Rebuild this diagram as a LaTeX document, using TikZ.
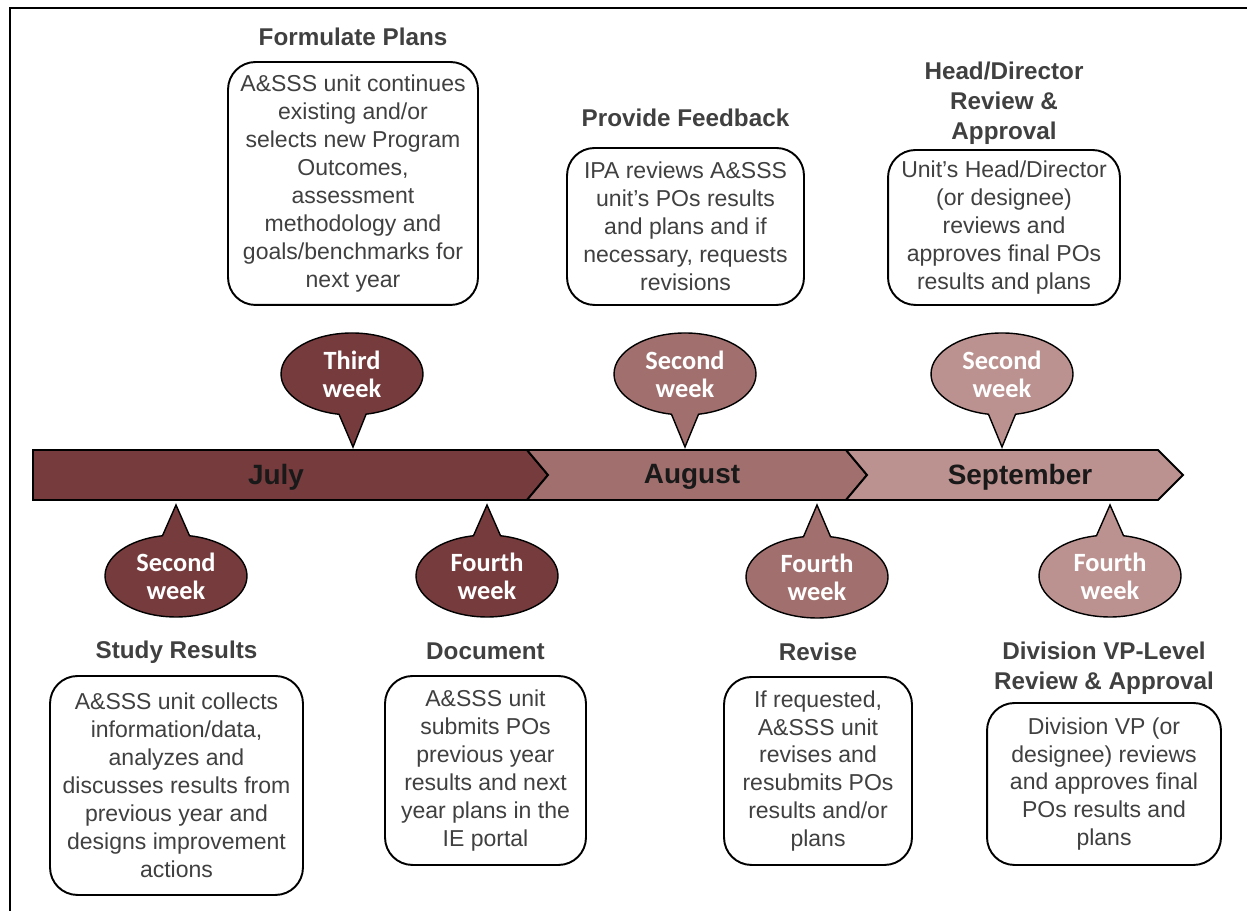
\documentclass[tikz,border=0pt]{standalone}
\usepackage{fontspec}
\setmainfont{Liberation Sans}
\newfontfamily\calloutfont{Carlito}
\usetikzlibrary{shapes.callouts, positioning}

\definecolor{julyred}{HTML}{763B3D}
\definecolor{augred}{HTML}{A1706E}
\definecolor{sepred}{HTML}{BC9290}
\definecolor{textgray}{HTML}{404040}

\begin{document}
\begin{tikzpicture}[
    x=0.02cm, y=0.02cm,
    stepbox/.style={rectangle, rounded corners=0.55cm, draw=black, line width=1.1pt, fill=white, align=center, text=textgray, font=\fontsize{13.1}{15.9}\selectfont, inner sep=0pt},
    title/.style={align=center, text=textgray, font=\bfseries\fontsize{13.8}{17.2}\selectfont, inner sep=0pt},
    month/.style={font=\bfseries\fontsize{15.9}{18}\selectfont, text=black!90},
    bar/.style={draw=black, line width=1.1pt},
    week/.style={ellipse callout, draw=black, line width=0.8pt, minimum width=2.84cm, minimum height=1.64cm, callout pointer arc=22, align=center, text=white, font=\calloutfont\bfseries\fontsize{15}{15.9}\selectfont, inner sep=0pt}
]
\useasboundingbox (0,0) rectangle (1247,911);

% frame
\draw[line width=1.4pt] (10,-5) -- (10,903) -- (1252,903);

% timeline bar
\draw[bar, fill=julyred] (33,461) -- (527,461) -- (548,436) -- (527,411) -- (33,411) -- cycle;
\draw[bar, fill=augred] (527,461) -- (846,461) -- (867,436) -- (846,411) -- (527,411) -- (548,436) -- cycle;
\draw[bar, fill=sepred] (846,461) -- (1158,461) -- (1183,436) -- (1158,411) -- (846,411) -- (867,436) -- cycle;
\node[month] (july) at (276,434) {July};
\node[month] (august) at (692,434) {August};
\node[month] (september) at (1020,434) {September};

% week callouts
\node[week, fill=julyred, callout absolute pointer={(353,464)}] (wkThird) at (352,537) {Third\\week};
\node[week, fill=augred, callout absolute pointer={(685,464)}] (wkAugSecond) at (685,537) {Second\\week};
\node[week, fill=sepred, callout absolute pointer={(1002,464)}] (wkSepSecond) at (1002,537) {Second\\week};
\node[week, fill=julyred, callout absolute pointer={(176,406)}] (wkJulSecond) at (176,335) {Second\\week};
\node[week, fill=julyred, callout absolute pointer={(487,406)}] (wkJulFourth) at (487,335) {Fourth\\week};
\node[week, fill=augred, callout absolute pointer={(817,406)}] (wkAugFourth) at (817,334) {Fourth\\week};
\node[week, fill=sepred, callout absolute pointer={(1110,406)}] (wkSepFourth) at (1110,335) {Fourth\\week};

% steps above the bar
\node[stepbox, minimum width=5cm, minimum height=4.86cm] (plans) at (353,727.5) {A\&SSS unit continues\\existing and/or\\selects new Program\\Outcomes,\\assessment\\methodology and\\goals/benchmarks for\\next year};
\node[stepbox, minimum width=4.74cm, minimum height=3.14cm] (feedback) at (685.5,684.5) {IPA reviews A\&SSS\\unit’s POs results\\and plans and if\\necessary, requests\\revisions};
\node[stepbox, minimum width=4.64cm, minimum height=3.1cm] (headreview) at (1004,683.5) {Unit’s Head/Director\\(or designee)\\reviews and\\approves final POs\\results and plans};
\node[title, above=0.3cm of plans] (plansTitle) {Formulate Plans};
\node[title, above=0.4cm of feedback] (feedbackTitle) {Provide Feedback};
\node[title, above=0.08cm of headreview] (headTitle) {Head/Director\\Review \&\\Approval};

% steps below the bar
\node[stepbox, minimum width=5.06cm, minimum height=4.38cm] (study) at (176.5,125.5) {A\&SSS unit collects\\information/data,\\analyzes and\\discusses results from\\previous year and\\designs improvement\\actions};
\node[stepbox, minimum width=4.02cm, minimum height=3.78cm] (document) at (485.5,140.5) {A\&SSS unit\\submits POs\\previous year\\results and next\\year plans in the\\IE portal};
\node[stepbox, minimum width=3.76cm, minimum height=3.76cm] (revise) at (818,140) {If requested,\\A\&SSS unit\\revises and\\resubmits POs\\results and/or\\plans};
\node[stepbox, minimum width=4.68cm, minimum height=3.24cm] (vpreview) at (1104,127) {Division VP (or\\designee) reviews\\and approves final\\POs results and\\plans};
\node[title, above=0.22cm of study] (studyTitle) {Study Results};
\node[title, above=0.3cm of document] (documentTitle) {Document};
\node[title, above=0.3cm of revise] (reviseTitle) {Revise};
\node[title, above=0.14cm of vpreview] (vpTitle) {Division VP-Level\\Review \& Approval};

\end{tikzpicture}
\end{document}
